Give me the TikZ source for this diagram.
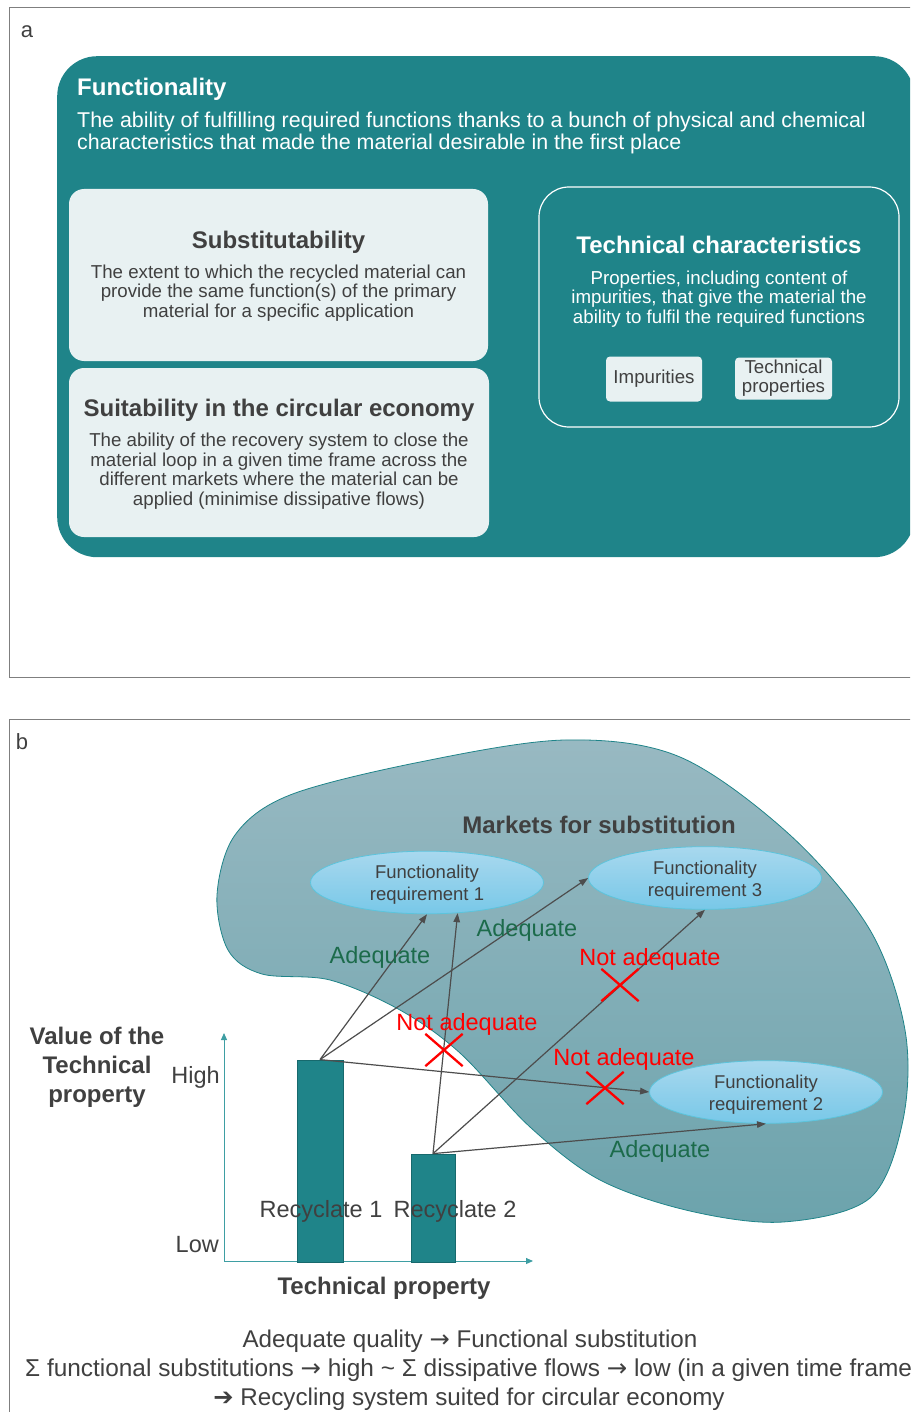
\documentclass[tikz,border=0pt]{standalone}
\usepackage{fontspec}
\setmainfont{Liberation Sans}
\newfontfamily\djv{DejaVu Sans}
\usetikzlibrary{shapes.geometric,shapes.misc,arrows.meta}
\definecolor{tealbox}{HTML}{1F8489}
\definecolor{tealdark}{HTML}{17696D}
\definecolor{lightbox}{HTML}{E8F1F2}
\definecolor{txtgray}{HTML}{404040}
\definecolor{arrgray}{HTML}{4D4D4D}
\definecolor{adeq}{HTML}{1C6B4B}
\definecolor{blobtop}{HTML}{98B9C2}
\definecolor{blobbot}{HTML}{6CA3AC}
\definecolor{elltop}{HTML}{A8D8EE}
\definecolor{ellbot}{HTML}{78C8E8}
\definecolor{ellline}{HTML}{5CC4DC}
\definecolor{axisc}{HTML}{3E9EA3}
\definecolor{panelline}{HTML}{7F7F7F}
\newcommand\fsz[2]{\fontsize{#1}{#2}\selectfont}
\newcommand\rarr{{\djv →}}
\begin{document}
\begin{tikzpicture}[x=1pt,y=-1pt,
  every node/.append style={inner sep=0pt},
  tshift/.style={yshift=-2pt},
  lbox/.style={rectangle, rounded corners=15pt, fill=lightbox},
  ttl/.style={tshift, font=\fsz{24}{28}\bfseries, text=txtgray},
  bod/.style={tshift, font=\fsz{18.7}{19.5}, text=txtgray, align=center},
  smallbox/.style={rectangle, rounded corners=4pt, fill=lightbox, font=\fsz{18.7}{19}, text=txtgray, align=center},
  ell/.style={ellipse, minimum width=233pt, minimum height=59pt, top color=elltop, bottom color=ellbot, draw=ellline, line width=0.8pt, align=center, font=\fsz{18.5}{22}, text=txtgray},
  bar/.style={rectangle, fill=tealbox, draw=tealdark, line width=0.8pt, minimum width=45pt},
  arr/.style={draw=arrgray, line width=1.2pt, -{Triangle[length=9pt,width=6.5pt]}},
  xmark/.style={cross out, draw=red, line width=2.3pt, minimum width=35pt, minimum height=30pt},
  ade/.style={tshift, font=\fsz{23.5}{26}, text=adeq},
  nade/.style={tshift, font=\fsz{23.5}{26}, text=red},
  gtxt/.style={tshift, font=\fsz{23.5}{29}, text=txtgray},
  btm/.style={tshift, font=\fsz{24.2}{29}, text=txtgray},
  btxt/.style={tshift, font=\fsz{24}{29}\bfseries, text=txtgray, align=center}
]
\useasboundingbox (0,0) rectangle (910,1412);
\clip (0,0) rectangle (910,1412);

% panel frames
\draw[panelline, line width=1pt] (9,8) rectangle (940,677);
\draw[panelline, line width=1pt] (9,719) rectangle (940,1440);
\node[tshift, font=\fsz{22}{26}, text=txtgray] (pa) at (27,30) {a};
\node[tshift, font=\fsz{22}{26}, text=txtgray] (pb) at (22,740) {b};

% ---------- panel a ----------
\node[rectangle, rounded corners=40pt, fill=tealbox, minimum width=857pt, minimum height=501pt, anchor=north west] (func) at (57,56) {};
\node[tshift, anchor=west, text=white, font=\fsz{24}{28}\bfseries] (ftitle) at (77,87) {Functionality};
\node[tshift, anchor=west, align=left, text=white, font=\fsz{21.4}{22}] (fdesc) at (77,131) {The ability of fulfilling required functions thanks to a bunch of physical and chemical\\characteristics that made the material desirable in the first place};

\node[lbox, minimum width=419pt, minimum height=172pt] (sub) at (278.5,275) {};
\node[ttl] (subt) at (278.5,240) {Substitutability};
\node[bod] (subb) at (278.5,291) {The extent to which the recycled material can\\provide the same function(s) of the primary\\material for a specific application};

\node[lbox, minimum width=420pt, minimum height=169pt] (suit) at (279,452.5) {};
\node[ttl] (suitt) at (279,408) {Suitability in the circular economy};
\node[bod] (suitb) at (279,469) {The ability of the recovery system to close the\\material loop in a given time frame across the\\different markets where the material can be\\applied (minimise dissipative flows)};

\node[draw=white, line width=1.2pt, rounded corners=30pt, minimum width=360pt, minimum height=240pt] (tech) at (719,307) {};
\node[ttl, text=white] (techt) at (719,243) {Technical characteristics};
\node[bod, text=white] (techb) at (719,297) {Properties, including content of\\impurities, that give the material the\\ability to fulfil the required functions};
\node[smallbox, minimum width=96pt, minimum height=45pt] (imp) at (654,379) {Impurities};
\node[smallbox, minimum width=97pt, minimum height=42pt] (tp) at (783.5,378.5) {Technical\\properties};

% ---------- panel b ----------
\path[draw=tealbox, line width=0.8pt, top color=blobtop, bottom color=blobbot]
  plot[smooth cycle, tension=0.55] coordinates {
   (565,740) (680,757) (790,835) (870,930) (905,1030) (903,1120) (870,1198)
   (783,1222) (690,1211) (600,1180) (530,1127) (460,1053) (400,1010) (330,980)
   (262,974) (228,950) (217,895) (235,835) (290,795) (420,762)};

\node[btxt] (mkt) at (599,823) {Markets for substitution};

\node[ell] (fr1) at (427,882.5) {\rule{0pt}{18.5pt}Functionality\\requirement 1};
\node[ell] (fr3) at (705,878) {\rule{0pt}{18.5pt}Functionality\\requirement 3};
\node[ell] (fr2) at (766,1092) {\rule{0pt}{18.5pt}Functionality\\requirement 2};

% axes
\coordinate (axy) at (224,1033);
\coordinate (axx) at (533,1261);
\draw[axisc, line width=1pt, {Triangle[length=7pt,width=6pt]}-{Triangle[length=7pt,width=6pt]}] (axy) |- (axx);

% bars
\node[bar, minimum width=46pt, minimum height=202pt] (bar1) at (320,1161) {};
\node[bar, minimum width=44pt, minimum height=108pt] (bar2) at (433,1208) {};

% arrows
\draw[arr] (bar1.north) -- (fr1.south);
\draw[arr] (bar1.north) -- (fr3.west);
\draw[arr] (bar1.north) -- (fr2.west);
\draw[arr] (bar2.north) -- (fr1.-45);
\draw[arr] (bar2.north) -- (fr3.south);
\draw[arr] (bar2.north) -- (fr2.south);

% crosses
\node[xmark] (x1) at (444,1050) {};
\node[xmark] (x2) at (620,985) {};
\node[xmark] (x3) at (605,1088) {};

% labels
\node[ade] (la1) at (380,955) {Adequate};
\node[ade] (la2) at (527,928) {Adequate};
\node[ade] (la3) at (660,1149) {Adequate};
\node[nade] (ln1) at (467,1022) {Not adequate};
\node[nade] (ln2) at (650,957) {Not adequate};
\node[nade] (ln3) at (624,1057) {Not adequate};

\node[gtxt] (rc1) at (321,1209) {Recyclate 1};
\node[gtxt] (rc2) at (455,1209) {Recyclate 2};
\node[gtxt, anchor=east] (hi) at (220,1075) {High};
\node[gtxt, anchor=east] (lo) at (219,1243) {Low};
\node[btxt] (vlab) at (97,1065) {Value of the\\Technical\\property};
\node[btxt] (xlab) at (384,1286) {Technical property};

% bottom text
\node[btm] (bt1) at (470,1339) {Adequate quality \rarr{} Functional substitution};
\node[btm, anchor=west, font=\fsz{24.4}{29}] (bt2) at (25,1368) {Σ functional substitutions \rarr{} high \textasciitilde{} Σ dissipative flows \rarr{} low (in a given time frame)};
\node[btm] (bt3) at (469,1397) {{\djv ➔} Recycling system suited for circular economy};
\end{tikzpicture}
\end{document}
